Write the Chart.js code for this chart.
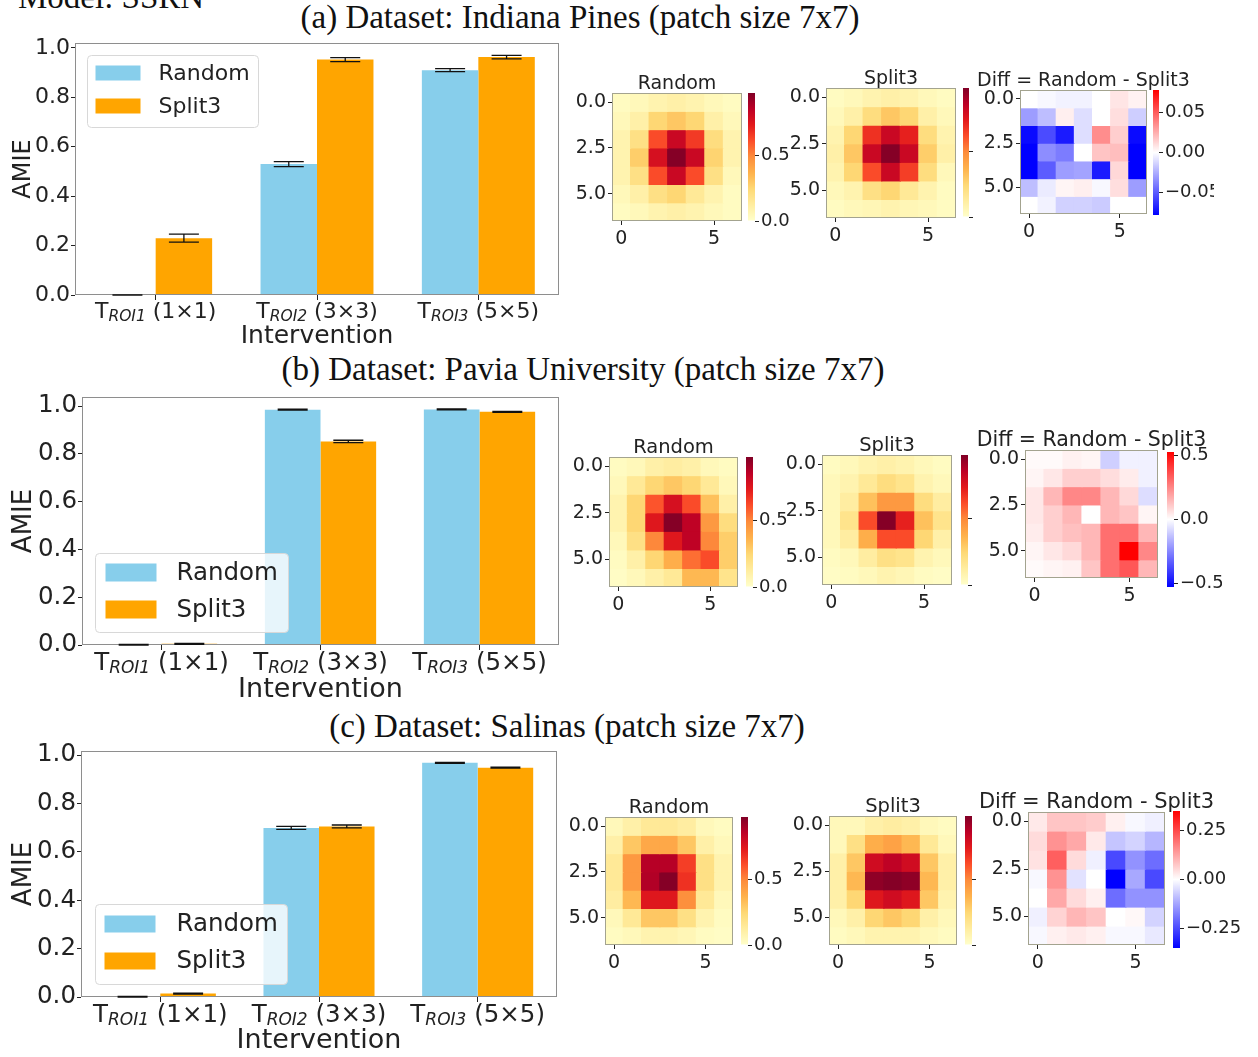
<!DOCTYPE html>
<html>
<head>
<meta charset="utf-8">
<script src="https://cdn.jsdelivr.net/npm/chart.js@4.4.0/dist/chart.umd.min.js"></script>
<style>
  body { margin: 0; background: #fff; width: 1258px; height: 1057px; overflow: hidden; position: relative; }
  canvas { position: absolute; }
  .ttl { position: absolute; font-family: 'Liberation Serif', 'Times New Roman', serif; font-size: 33px; line-height: 1; color: #111; white-space: nowrap; }
  .mid { transform: translateX(-50%); }
</style>
</head>
<body>
<div class="ttl" style="left:18px;top:-19px">Model: SSRN</div>
<div class="ttl mid" style="left:580px;top:1px">(a) Dataset: Indiana Pines (patch size 7x7)</div>
<div class="ttl mid" style="left:583px;top:353px">(b) Dataset: Pavia University (patch size 7x7)</div>
<div class="ttl mid" style="left:567px;top:710px">(c) Dataset: Salinas (patch size 7x7)</div>
<script>
'use strict';

// bar chart categories
var roiNames = ['ROI1', 'ROI2', 'ROI3'];
var roiSizes = ['(1×1)', '(3×3)', '(5×5)'];
var amieTicks = [0, 0.2, 0.4, 0.6, 0.8, 1.0];

// AMIE per intervention (mean and error)
var pinesRandom = [0.0, 0.53, 0.91];
var pinesSplit3 = [0.23, 0.953, 0.963];
var pinesRandomErr = [0, 0.01, 0.006];
var pinesSplit3Err = [0.016, 0.008, 0.007];

var paviaRandom = [0.001, 0.985, 0.986];
var paviaSplit3 = [0.005, 0.852, 0.976];
var paviaRandomErr = [0.001, 0.002, 0.002];
var paviaSplit3Err = [0.002, 0.005, 0.002];

var salinasRandom = [0.001, 0.699, 0.968];
var salinasSplit3 = [0.014, 0.705, 0.948];
var salinasRandomErr = [0.001, 0.006, 0.002];
var salinasSplit3Err = [0.002, 0.006, 0.002];

// 7x7 maps
var cellLabels = ['0', '1', '2', '3', '4', '5', '6'];
var cellTicks = [0, 2.5, 5];

var pinesMapRandom = [
  [0.03, 0.05, 0.08, 0.10, 0.08, 0.05, 0.03],
  [0.05, 0.10, 0.25, 0.30, 0.25, 0.10, 0.05],
  [0.08, 0.20, 0.62, 0.82, 0.66, 0.22, 0.08],
  [0.08, 0.28, 0.78, 0.97, 0.82, 0.26, 0.08],
  [0.08, 0.20, 0.62, 0.82, 0.62, 0.20, 0.05],
  [0.05, 0.10, 0.20, 0.25, 0.15, 0.08, 0.03],
  [0.03, 0.05, 0.08, 0.10, 0.08, 0.05, 0.03]
];
var pinesMapSplit3 = [
  [0.03, 0.05, 0.08, 0.10, 0.08, 0.05, 0.03],
  [0.05, 0.10, 0.22, 0.30, 0.25, 0.10, 0.05],
  [0.08, 0.25, 0.68, 0.82, 0.72, 0.22, 0.08],
  [0.10, 0.30, 0.82, 0.97, 0.82, 0.28, 0.10],
  [0.08, 0.25, 0.62, 0.82, 0.65, 0.22, 0.05],
  [0.05, 0.08, 0.20, 0.25, 0.15, 0.08, 0.03],
  [0.03, 0.05, 0.06, 0.08, 0.06, 0.05, 0.03]
];
var pinesMapDiff = [
  [0.000, -0.002, -0.004, -0.004, 0.000, 0.008, 0.004],
  [-0.030, -0.020, 0.005, -0.010, 0.000, 0.010, -0.015],
  [-0.075, -0.055, -0.070, -0.010, 0.035, 0.015, -0.075],
  [-0.078, -0.035, -0.040, 0.000, 0.018, 0.020, -0.078],
  [-0.078, -0.050, -0.030, -0.028, -0.070, 0.012, -0.078],
  [-0.020, -0.006, 0.003, 0.005, -0.002, 0.010, -0.030],
  [0.000, -0.004, -0.014, -0.014, -0.016, 0.000, 0.000]
];

var paviaMapRandom = [
  [0.03, 0.05, 0.10, 0.12, 0.10, 0.05, 0.03],
  [0.05, 0.15, 0.25, 0.30, 0.25, 0.15, 0.05],
  [0.08, 0.25, 0.60, 0.78, 0.62, 0.32, 0.10],
  [0.08, 0.25, 0.75, 0.97, 0.85, 0.45, 0.22],
  [0.05, 0.20, 0.50, 0.75, 0.85, 0.50, 0.28],
  [0.03, 0.10, 0.25, 0.38, 0.55, 0.62, 0.28],
  [0.02, 0.05, 0.10, 0.15, 0.35, 0.35, 0.18]
];
var paviaMapSplit3 = [
  [0.03, 0.05, 0.08, 0.10, 0.08, 0.05, 0.03],
  [0.05, 0.08, 0.15, 0.22, 0.18, 0.08, 0.05],
  [0.05, 0.12, 0.32, 0.45, 0.45, 0.22, 0.12],
  [0.05, 0.18, 0.62, 0.97, 0.72, 0.32, 0.18],
  [0.05, 0.12, 0.38, 0.62, 0.62, 0.25, 0.10],
  [0.03, 0.05, 0.12, 0.20, 0.18, 0.08, 0.05],
  [0.02, 0.03, 0.05, 0.08, 0.06, 0.03, 0.02]
];
var paviaMapDiff = [
  [0.01, 0.01, 0.03, 0.02, -0.10, -0.03, -0.03],
  [0.02, 0.05, 0.10, 0.10, 0.07, 0.04, -0.03],
  [0.05, 0.15, 0.25, 0.25, 0.15, 0.08, -0.07],
  [0.05, 0.10, 0.15, 0.00, 0.15, 0.12, 0.02],
  [0.04, 0.10, 0.13, 0.15, 0.30, 0.30, 0.15],
  [0.02, 0.05, 0.08, 0.15, 0.30, 0.53, 0.25],
  [0.01, 0.02, 0.03, 0.12, 0.30, 0.35, 0.15]
];

var salinasMapRandom = [
  [0.05, 0.10, 0.15, 0.15, 0.12, 0.05, 0.03],
  [0.10, 0.30, 0.40, 0.40, 0.30, 0.10, 0.05],
  [0.15, 0.45, 0.87, 0.87, 0.65, 0.20, 0.08],
  [0.15, 0.45, 0.88, 0.97, 0.68, 0.20, 0.08],
  [0.12, 0.35, 0.75, 0.75, 0.48, 0.15, 0.05],
  [0.05, 0.15, 0.30, 0.30, 0.20, 0.08, 0.03],
  [0.03, 0.05, 0.08, 0.08, 0.06, 0.03, 0.02]
];
var salinasMapSplit3 = [
  [0.05, 0.05, 0.10, 0.12, 0.10, 0.05, 0.03],
  [0.05, 0.20, 0.38, 0.42, 0.35, 0.15, 0.05],
  [0.10, 0.30, 0.80, 0.85, 0.80, 0.30, 0.10],
  [0.10, 0.35, 0.95, 0.97, 0.95, 0.35, 0.10],
  [0.10, 0.25, 0.75, 0.80, 0.75, 0.30, 0.08],
  [0.05, 0.10, 0.25, 0.30, 0.25, 0.10, 0.05],
  [0.03, 0.05, 0.08, 0.08, 0.08, 0.05, 0.03]
];
var salinasMapDiff = [
  [0.03, 0.08, 0.08, 0.07, 0.02, -0.01, -0.02],
  [0.05, 0.15, 0.12, 0.03, -0.08, -0.06, -0.10],
  [0.04, 0.22, 0.05, -0.02, -0.25, -0.15, -0.20],
  [-0.01, 0.15, -0.04, 0.00, -0.35, -0.12, -0.25],
  [0.00, 0.12, 0.05, 0.02, -0.20, -0.15, -0.15],
  [-0.02, 0.06, 0.10, 0.08, 0.00, 0.01, -0.06],
  [-0.01, 0.02, 0.03, 0.02, -0.01, -0.01, -0.03]
];

var SKY = '#87CEEB';
var ORANGE = '#FFA500';
var INK = '#222';
var FONT = 'DejaVu Sans';

Chart.defaults.font.family = FONT;
Chart.defaults.color = INK;

var base = {
  responsive: false, animation: false, devicePixelRatio: 1, events: [],
  plugins: { legend: { display: false }, tooltip: { enabled: false }, title: { display: false } }
};

//colormaps
var YLORRD = ['#ffffcc', '#ffeda0', '#fed976', '#feb24c', '#fd8d3c', '#fc4e2a', '#e31a1c', '#bd0026', '#800026'];

function hexRgb(h) {
  return [1, 3, 5].map(function(i) { return parseInt(h.substr(i, 2), 16); });
}

function clamp01(t) { return Math.max(0, Math.min(1, t)); }

function ylorrd(t) {
  t = clamp01(t);
  var n = YLORRD.length - 1;
  var i = Math.min(n - 1, Math.floor(t * n));
  var f = t * n - i;
  var a = hexRgb(YLORRD[i]), b = hexRgb(YLORRD[i + 1]);
  return 'rgb(' + a.map(function(v, k) { return Math.round(v + (b[k] - v) * f); }).join(',') + ')';
}

function bwr(t) {
  t = clamp01(t);
  var v;
  if (t < 0.5) {
    v = Math.round(510 * t);
    return 'rgb(' + v + ',' + v + ',255)';
  }
  v = Math.round(510 * (1 - t));
  return 'rgb(255,' + v + ',' + v + ')';
}

function mkCanvas(x, y, w, h) {
  var c = document.createElement('canvas');
  c.width = w; c.height = h;
  c.style.left = x + 'px'; c.style.top = y + 'px';
  c.style.width = w + 'px'; c.style.height = h + 'px';
  document.body.appendChild(c);
  return c.getContext('2d');
}

// fixed size for an axis, and no extra room for its end labels
function fixWidth(w) {
  return function(s) { s.width = w; s.paddingTop = 0; s.paddingBottom = 0; };
}
function fixHeight(h) {
  return function(s) { s.height = h; s.paddingLeft = 0; s.paddingRight = 0; };
}

// box round the plot area
function frame(color) {
  return {
    id: 'frame',
    afterDatasetsDraw: function(chart) {
      var a = chart.chartArea, ctx = chart.ctx;
      ctx.save();
      ctx.strokeStyle = color;
      ctx.lineWidth = 1;
      ctx.strokeRect(Math.round(a.left) + 0.5, Math.round(a.top) + 0.5,
        Math.round(a.right - a.left) - 1, Math.round(a.bottom - a.top) - 1);
      ctx.restore();
    }
  };
}

function panelTitle(text, size) {
  return {
    id: 'panelTitle',
    afterDraw: function(chart) {
      var a = chart.chartArea, ctx = chart.ctx;
      ctx.save();
      ctx.fillStyle = INK;
      ctx.font = size + 'px "' + FONT + '"';
      ctx.textAlign = 'center';
      ctx.textBaseline = 'alphabetic';
      ctx.fillText(text, (a.left + a.right) / 2, a.top - 4);
      ctx.restore();
    }
  };
}

var errorBars = {
  id: 'errorBars',
  afterDatasetsDraw: function(chart) {
    var ctx = chart.ctx, y = chart.scales.y;
    ctx.save();
    ctx.strokeStyle = '#111';
    ctx.lineWidth = 1.3;
    chart.data.datasets.forEach(function(ds, di) {
      chart.getDatasetMeta(di).data.forEach(function(bar, i) {
        var v = ds.data[i], e = ds.err[i], c = 15;
        var y1 = y.getPixelForValue(v - e), y2 = y.getPixelForValue(v + e);
        ctx.beginPath();
        ctx.moveTo(bar.x, y1); ctx.lineTo(bar.x, y2);
        ctx.moveTo(bar.x - c, y1); ctx.lineTo(bar.x + c, y1);
        ctx.moveTo(bar.x - c, y2); ctx.lineTo(bar.x + c, y2);
        ctx.stroke();
      });
    });
    ctx.restore();
  }
};

function legendBox(L) {
  return {
    id: 'legendBox',
    afterDraw: function(chart) {
      var a = chart.chartArea, ctx = chart.ctx;
      var x0 = Math.round(a.left + L.dx) + 0.5, y0 = Math.round(a.top + L.dy) + 0.5;
      ctx.save();
      ctx.beginPath();
      ctx.roundRect(x0, y0, L.w, L.h, 4);
      ctx.fillStyle = 'rgba(255,255,255,0.8)';
      ctx.fill();
      ctx.strokeStyle = '#d8d8d8';
      ctx.lineWidth = 1;
      ctx.stroke();
      chart.data.datasets.forEach(function(ds, i) {
        var py = y0 + L.py + i * L.gap;
        ctx.fillStyle = ds.backgroundColor;
        ctx.fillRect(x0 + L.px, py, L.pw, L.ph);
        ctx.fillStyle = INK;
        ctx.font = L.size + 'px "' + FONT + '"';
        ctx.textAlign = 'left';
        ctx.textBaseline = 'middle';
        ctx.fillText(ds.label, x0 + L.tx, py + L.ph / 2 + 1);
      });
      ctx.restore();
    }
  };
}

// T_ROIk (n×n) tick labels and axis titles
function axisText(p) {
  return {
    id: 'axisText',
    afterDraw: function(chart) {
      var ctx = chart.ctx, s = chart.scales.x, a = chart.chartArea;
      var big = p.tickSize + 'px "' + FONT + '"';
      var small = 'italic ' + p.subSize + 'px "' + FONT + '"';
      ctx.save();
      ctx.fillStyle = INK;
      ctx.textAlign = 'left';
      ctx.textBaseline = 'alphabetic';
      roiNames.forEach(function(name, i) {
        var tail = ' ' + roiSizes[i];
        ctx.font = big;
        var wT = ctx.measureText('T').width, wTail = ctx.measureText(tail).width;
        ctx.font = small;
        var wSub = ctx.measureText(name).width;
        var x = s.getPixelForTick(i) - (wT + wSub + wTail) / 2;
        var y = a.bottom + p.labelDy;
        ctx.font = big; ctx.fillText('T', x, y); x += wT;
        ctx.font = small; ctx.fillText(name, x, y + 3); x += wSub;
        ctx.font = big; ctx.fillText(tail, x, y);
      });
      ctx.font = p.axisSize + 'px "' + FONT + '"';
      ctx.textAlign = 'center';
      ctx.fillText('Intervention', (a.left + a.right) / 2, a.bottom + p.xTitleDy);
      ctx.font = p.amieSize + 'px "' + FONT + '"';
      ctx.translate(p.yTitleX, (a.top + a.bottom) / 2);
      ctx.rotate(-Math.PI / 2);
      ctx.fillText('AMIE', 0, 0);
      ctx.restore();
    }
  };
}

function barPanel(p) {
  var M = { l: p.left, t: 12, r: 10, b: 62 };
  var h = p.bottom - p.top;
  var ctx = mkCanvas(0, p.top - M.t, p.right + M.r, h + M.t + M.b);
  new Chart(ctx, {
    type: 'bar',
    data: {
      labels: roiNames,
      datasets: [
        { label: 'Random', data: p.random, err: p.randomErr, backgroundColor: SKY },
        { label: 'Split3', data: p.split3, err: p.split3Err, backgroundColor: ORANGE }
      ]
    },
    options: Object.assign({}, base, {
      layout: { padding: { top: M.t, right: M.r, left: 0, bottom: 0 } },
      datasets: { bar: { barPercentage: 1, categoryPercentage: 0.7, borderWidth: 0 } },
      scales: {
        x: {
          grid: { drawOnChartArea: false, offset: false, tickLength: 5, color: INK },
          border: { display: false },
          ticks: { callback: function() { return ''; } },
          afterFit: fixHeight(M.b)
        },
        y: {
          min: 0, max: p.ymax,
          grid: { drawOnChartArea: false, tickLength: 4, color: INK },
          border: { display: false },
          afterBuildTicks: function(s) { s.ticks = amieTicks.map(function(v) { return { value: v }; }); },
          ticks: { padding: 1, font: { size: p.tickSize }, callback: function(v) { return v.toFixed(1); } },
          afterFit: fixWidth(M.l)
        }
      }
    }),
    plugins: [frame('#8e8e8e'), errorBars, legendBox(p.legend), axisText(p)]
  });
}

function heatPanel(box, grid, cmap, vmin, vmax, title, titleSize) {
  var M = { l: 50, t: 28, r: 70, b: 30 };
  var w = box.right - box.left, h = box.bottom - box.top;
  var ctx = mkCanvas(box.left - M.l, box.top - M.t, w + M.l + M.r, h + M.t + M.b);
  new Chart(ctx, {
    type: 'bar',
    data: {
      labels: cellLabels,
      datasets: grid.map(function(row, r) {
        return {
          data: row.map(function() { return [r - 0.5, r + 0.5]; }),
          backgroundColor: row.map(function(v) { return cmap((v - vmin) / (vmax - vmin)); }),
          grouped: false, barPercentage: 1, categoryPercentage: 1, borderWidth: 0, inflateAmount: 0.6
        };
      })
    },
    options: Object.assign({}, base, {
      layout: { padding: { top: M.t, right: M.r, left: 0, bottom: 0 } },
      scales: {
        x: {
          grid: {
            drawOnChartArea: false, offset: false, tickLength: 4,
            color: function(c) { return c.index % 5 === 0 ? INK : 'rgba(0,0,0,0)'; }
          },
          border: { display: false },
          ticks: {
            autoSkip: false, maxRotation: 0, padding: 3, font: { size: 19 },
            callback: function(v, i) { return i % 5 === 0 ? String(i) : ''; }
          },
          afterFit: fixHeight(M.b)
        },
        y: {
          reverse: true, min: -0.5, max: 6.5,
          grid: { drawOnChartArea: false, tickLength: 4, color: INK },
          border: { display: false },
          afterBuildTicks: function(s) { s.ticks = cellTicks.map(function(v) { return { value: v }; }); },
          ticks: { padding: 2, font: { size: 19 }, callback: function(v) { return v.toFixed(1); } },
          afterFit: fixWidth(M.l)
        }
      }
    }),
    plugins: [frame('#a3a38f'), panelTitle(title, titleSize)]
  });
}

function cbarPanel(box, cmap, vmin, vmax, ticks, fmt, labelW) {
  var M = { t: 14, b: 14 };
  var w = box.right - box.left, h = box.bottom - box.top;
  var ctx = mkCanvas(box.left, box.top - M.t, w + labelW, h + M.t + M.b);
  new Chart(ctx, {
    type: 'bar',
    data: {
      labels: [''],
      datasets: [{
        data: [[vmin, vmax]],
        backgroundColor: function(c) {
          var a = c.chart.chartArea;
          if (!a) return 'rgba(0,0,0,0)';
          var g = c.chart.ctx.createLinearGradient(0, a.bottom, 0, a.top);
          for (var k = 0; k <= 24; k++) g.addColorStop(k / 24, cmap(k / 24));
          return g;
        },
        barPercentage: 1, categoryPercentage: 1, borderWidth: 0, inflateAmount: 0
      }]
    },
    options: Object.assign({}, base, {
      layout: { padding: { top: M.t, bottom: M.b, left: 0, right: 0 } },
      scales: {
        x: { display: false },
        y: {
          position: 'right', min: vmin, max: vmax,
          grid: { drawOnChartArea: false, tickLength: 4, color: INK },
          border: { display: false },
          afterBuildTicks: function(s) { s.ticks = ticks.map(function(v) { return { value: v }; }); },
          ticks: { padding: 2, font: { size: 18 }, callback: fmt },
          afterFit: fixWidth(labelW)
        }
      }
    })
  });
}

function fmt1(v) { return v.toFixed(1); }
function noLabel() { return ''; }
function signed(d) {
  return function(v) { return (v < 0 ? '\u2212' : '') + Math.abs(v).toFixed(d); };
}

// (a) Indiana Pines
barPanel({
  left: 75, top: 43, right: 559, bottom: 295, ymax: 1.02,
  random: pinesRandom, split3: pinesSplit3, randomErr: pinesRandomErr, split3Err: pinesSplit3Err,
  tickSize: 22, subSize: 15.5, axisSize: 25, amieSize: 24, labelDy: 23, xTitleDy: 48, yTitleX: 30,
  legend: { dx: 12, dy: 12, w: 171, h: 72, px: 8, py: 10, pw: 45, ph: 15, gap: 33, tx: 71, size: 22 }
});
heatPanel({ left: 612, top: 93, right: 742, bottom: 221 }, pinesMapRandom, ylorrd, 0, 0.98, 'Random', 19);
heatPanel({ left: 826, top: 88, right: 956, bottom: 218 }, pinesMapSplit3, ylorrd, 0, 0.98, 'Split3', 19);
heatPanel({ left: 1020, top: 90, right: 1147, bottom: 214 }, pinesMapDiff, bwr, -0.078, 0.078, 'Diff = Random - Split3', 19);
cbarPanel({ left: 748, top: 93, right: 755, bottom: 221 }, ylorrd, 0, 0.98, [0, 0.5], fmt1, 40);
cbarPanel({ left: 963, top: 88, right: 969, bottom: 217 }, ylorrd, 0, 0.98, [0, 0.5], noLabel, 6);
cbarPanel({ left: 1153, top: 90, right: 1159, bottom: 215 }, bwr, -0.078, 0.078, [-0.05, 0, 0.05], signed(2), 55);

// (b) Pavia University
barPanel({
  left: 82, top: 397, right: 559, bottom: 645, ymax: 1.038,
  random: paviaRandom, split3: paviaSplit3, randomErr: paviaRandomErr, split3Err: paviaSplit3Err,
  tickSize: 24.5, subSize: 17, axisSize: 27, amieSize: 26, labelDy: 25, xTitleDy: 52, yTitleX: 31,
  legend: { dx: 13, dy: 156, w: 193, h: 79, px: 10, py: 10, pw: 51, ph: 18, gap: 37, tx: 81, size: 24.5 }
});
heatPanel({ left: 609, top: 457, right: 738, bottom: 587 }, paviaMapRandom, ylorrd, 0, 0.98, 'Random', 19.5);
heatPanel({ left: 822, top: 455, right: 952, bottom: 585 }, paviaMapSplit3, ylorrd, 0, 0.98, 'Split3', 19.5);
heatPanel({ left: 1025, top: 450, right: 1158, bottom: 578 }, paviaMapDiff, bwr, -0.53, 0.53, 'Diff = Random - Split3', 20.5);
cbarPanel({ left: 746, top: 457, right: 753, bottom: 587 }, ylorrd, 0, 0.98, [0, 0.5], fmt1, 40);
cbarPanel({ left: 961, top: 455, right: 968, bottom: 585 }, ylorrd, 0, 0.98, [0, 0.5], noLabel, 6);
cbarPanel({ left: 1167, top: 452, right: 1174, bottom: 587 }, bwr, -0.53, 0.53, [-0.5, 0, 0.5], signed(1), 48);

// (c) Salinas
barPanel({
  left: 81, top: 751, right: 557, bottom: 997, ymax: 1.017,
  random: salinasRandom, split3: salinasSplit3, randomErr: salinasRandomErr, split3Err: salinasSplit3Err,
  tickSize: 24.5, subSize: 17, axisSize: 27, amieSize: 26, labelDy: 25, xTitleDy: 51, yTitleX: 31,
  legend: { dx: 14, dy: 153, w: 192, h: 80, px: 9, py: 11, pw: 51, ph: 17, gap: 37, tx: 81, size: 24.5 }
});
heatPanel({ left: 605, top: 817, right: 733, bottom: 945 }, salinasMapRandom, ylorrd, 0, 0.98, 'Random', 19.5);
heatPanel({ left: 829, top: 816, right: 957, bottom: 945 }, salinasMapSplit3, ylorrd, 0, 0.98, 'Split3', 19.5);
heatPanel({ left: 1028, top: 812, right: 1165, bottom: 945 }, salinasMapDiff, bwr, -0.35, 0.35, 'Diff = Random - Split3', 21);
cbarPanel({ left: 741, top: 817, right: 748, bottom: 945 }, ylorrd, 0, 0.98, [0, 0.5], fmt1, 40);
cbarPanel({ left: 965, top: 816, right: 972, bottom: 945 }, ylorrd, 0, 0.98, [0, 0.5], noLabel, 6);
cbarPanel({ left: 1173, top: 811, right: 1180, bottom: 948 }, bwr, -0.35, 0.35, [-0.25, 0, 0.25], signed(2), 75);
</script>
</body>
</html>
